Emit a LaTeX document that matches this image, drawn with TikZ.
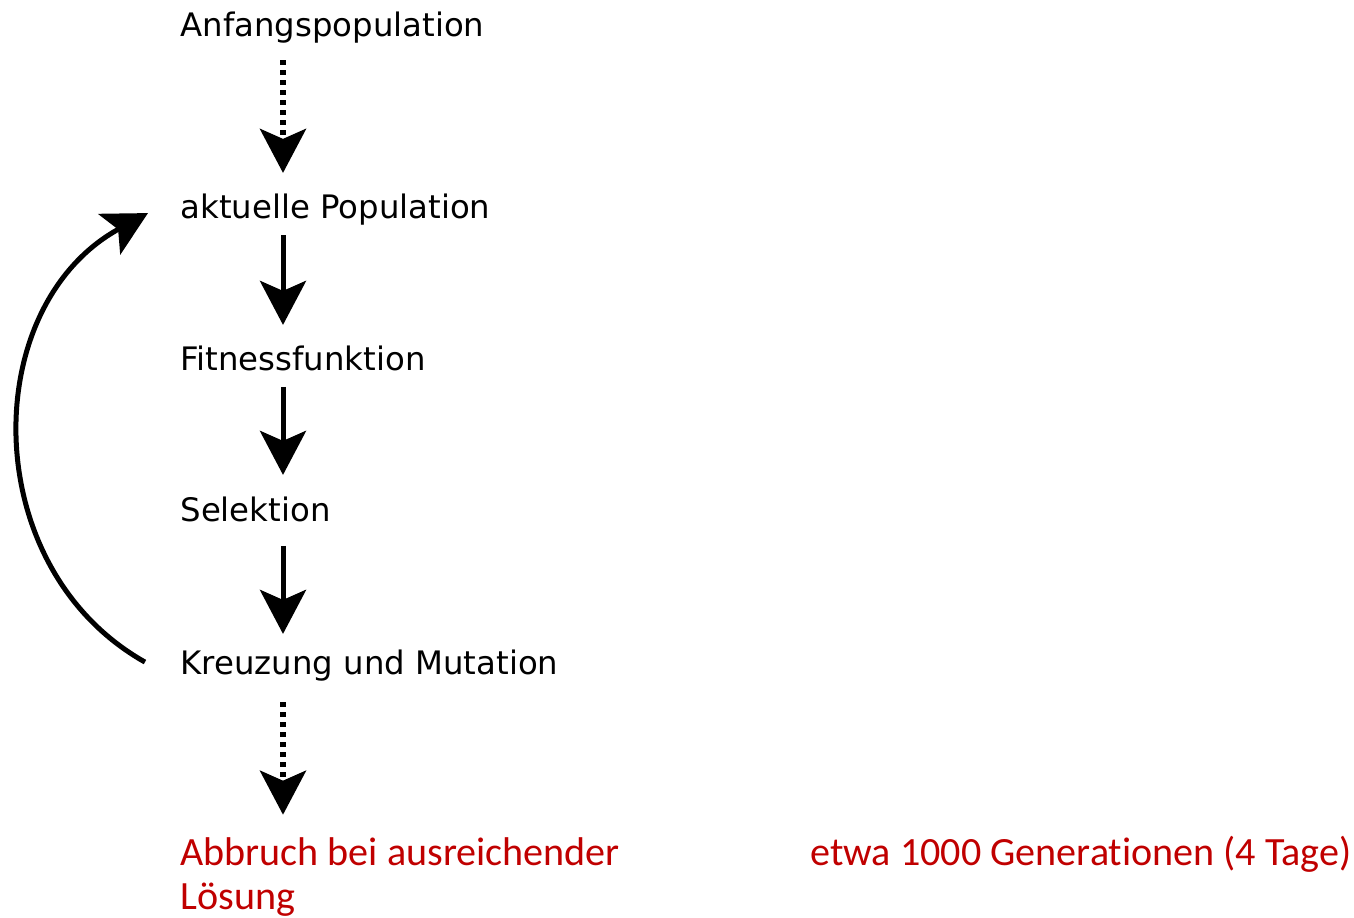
\documentclass[tikz,border=0pt]{standalone}
\usepackage{fontspec}
\setmainfont{DejaVu Sans}
\newfontfamily\stopfamily[Ligatures=NoCommon]{Carlito}
\usetikzlibrary{arrows.meta}
\definecolor{abbruchrot}{RGB}{192,0,0}
\newcommand\stepfont{\fontsize{9.2pt}{11pt}\selectfont}
\newcommand\stopfont{\stopfamily\fontsize{11.4pt}{12.5pt}\selectfont}

\begin{document}
\begin{tikzpicture}[x=0.01cm,y=-0.01cm,>={Stealth[length=0.44cm,width=0.46cm,inset=0.1cm]},
			line width=0.05cm,
			step node/.style={anchor=base west,inner sep=0pt,font=\stepfont},
			stop node/.style={anchor=base west,inner sep=0pt,font=\stopfont,text=abbruchrot,align=left},
			dotted arrow/.style={->,line width=0.055cm,dash pattern=on 0.05cm off 0.05cm},
			solid arrow/.style={->}]
			
			\useasboundingbox (0,0) rectangle (1354,918);
			
			\node (anfang) [step node] at (178,37) {Anfangspopulation};
			\node (aktuell) [step node] at (178,218) {aktuelle Population};
			\node (fitness) [step node] at (178,370) {Fitnessfunktion};
			\node (selektion) [step node] at (178,521) {Selektion};
			\node (kreuzung) [step node] at (178,674) {Kreuzung und Mutation};
			\node (abbruch) [stop node] at (178,909) {Abbruch bei ausreichender\\Lösung};
			\node (dauer) [stop node] at (808,865) {etwa 1000 Generationen (4 Tage)};
			\coordinate (achse) at (283,0);
			
			\path
			(anfang.south -| achse) edge [dotted arrow,shorten <=0.14cm,shorten >=0.18cm] (aktuell.north -| achse)
			(aktuell.south -| achse) edge [solid arrow,shorten <=0.08cm,shorten >=0.18cm] (fitness.north -| achse)
			(fitness.south -| achse) edge [solid arrow,shorten <=0.14cm,shorten >=0.19cm] (selektion.north -| achse)
			(selektion.south -| achse) edge [solid arrow,shorten <=0.22cm,shorten >=0.13cm] (kreuzung.north -| achse)
			(kreuzung.south -| achse) edge [dotted arrow,shorten <=0.19cm,shorten >=0.2cm] (abbruch.north -| achse)
			;
			
			\draw [->] ([xshift=-0.33cm,yshift=0.03cm]kreuzung.west) to [bend left=61,looseness=1.1] ([xshift=-0.3cm,yshift=-0.04cm]aktuell.west);
		\end{tikzpicture}
\end{document}
